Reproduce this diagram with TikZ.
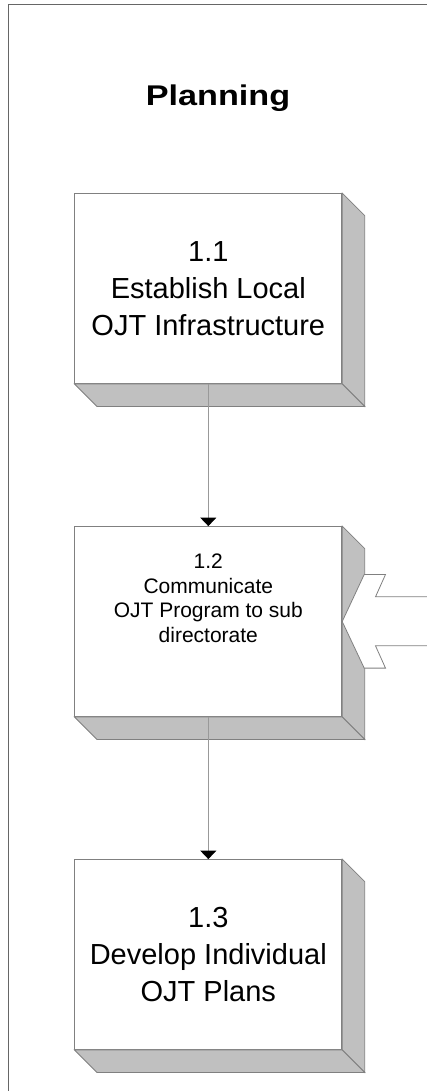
\documentclass[tikz,border=0pt]{standalone}
\usepackage{fontspec}
\setmainfont{Liberation Sans}
\usetikzlibrary{arrows.meta}
\definecolor{edge}{HTML}{808080}
\definecolor{shade}{HTML}{C0C0C0}
\definecolor{frameline}{HTML}{666666}

\begin{document}
\begin{tikzpicture}[x=1pt, y=1pt,
        proc/.style = {draw=edge, fill=white, line width=0.8pt, minimum width=267pt, minimum height=190pt, inner sep=0pt},
        face/.style = {draw=edge, fill=shade, line width=0.8pt},
        big/.style = {align=center, font=\fontsize{29}{37}\selectfont},
        small/.style = {align=center, font=\fontsize{21}{24.5}\selectfont},
        flow/.style = {draw=edge!80, line width=0.8pt, -{Triangle[width=16pt,length=8.5pt,color=black]}},
        node distance=333pt]

        \useasboundingbox (0,0) rectangle (427,-1091);

        \draw[frameline, line width=0.9pt] (432,-4) -- (8,-4) -- (8,-1095);

        \node (plan) at (218,-98) {\fontsize{28.5}{32}\selectfont\bfseries\scalebox{1.2}[1]{Planning}};

        \node[proc] (b11) at (208.3,-288.5) {};
        \node[proc] (b12) [below of=b11] {};
        \node[proc] (b13) [below of=b12] {};

        %\draw[face] (b11.north east) -- ++(22.5,-22.5);

        \foreach \b in {b11,b12,b13} {
            \draw[face] (\b.north east) -- ++(22.5,-22.5) -- ([shift={(22.5,-22.5)}]\b.south east) -- (\b.south east) -- cycle;
            \draw[face] (\b.south west) -- ++(22.5,-22.5) -- ([shift={(22.5,-22.5)}]\b.south east) -- (\b.south east) -- cycle;
        }

        \node[big] (t11) at (b11) {1.1\\Establish Local\\OJT Infrastructure};
        \node[small] (t12) at ([yshift=23pt]b12) {1.2\\Communicate\\OJT Program to sub\\directorate};
        \node[big] (t13) at (b13) {1.3\\Develop Individual\\OJT Plans};

        \draw[flow] (b11.south) -- (b12.north);
        \draw[flow] (b12.south) -- (b13.north);

        \draw[draw=edge, fill=white, line width=0.8pt] (b12.east) -- ++(22,47) -- ++(21.3,0) -- ++(-10,-22.3) -- ++(60,0)
            -- ++(0,-49) -- ++(-60,0) -- ++(10,-22.3) -- ++(-21.3,0) -- cycle;

\end{tikzpicture}
\end{document}
